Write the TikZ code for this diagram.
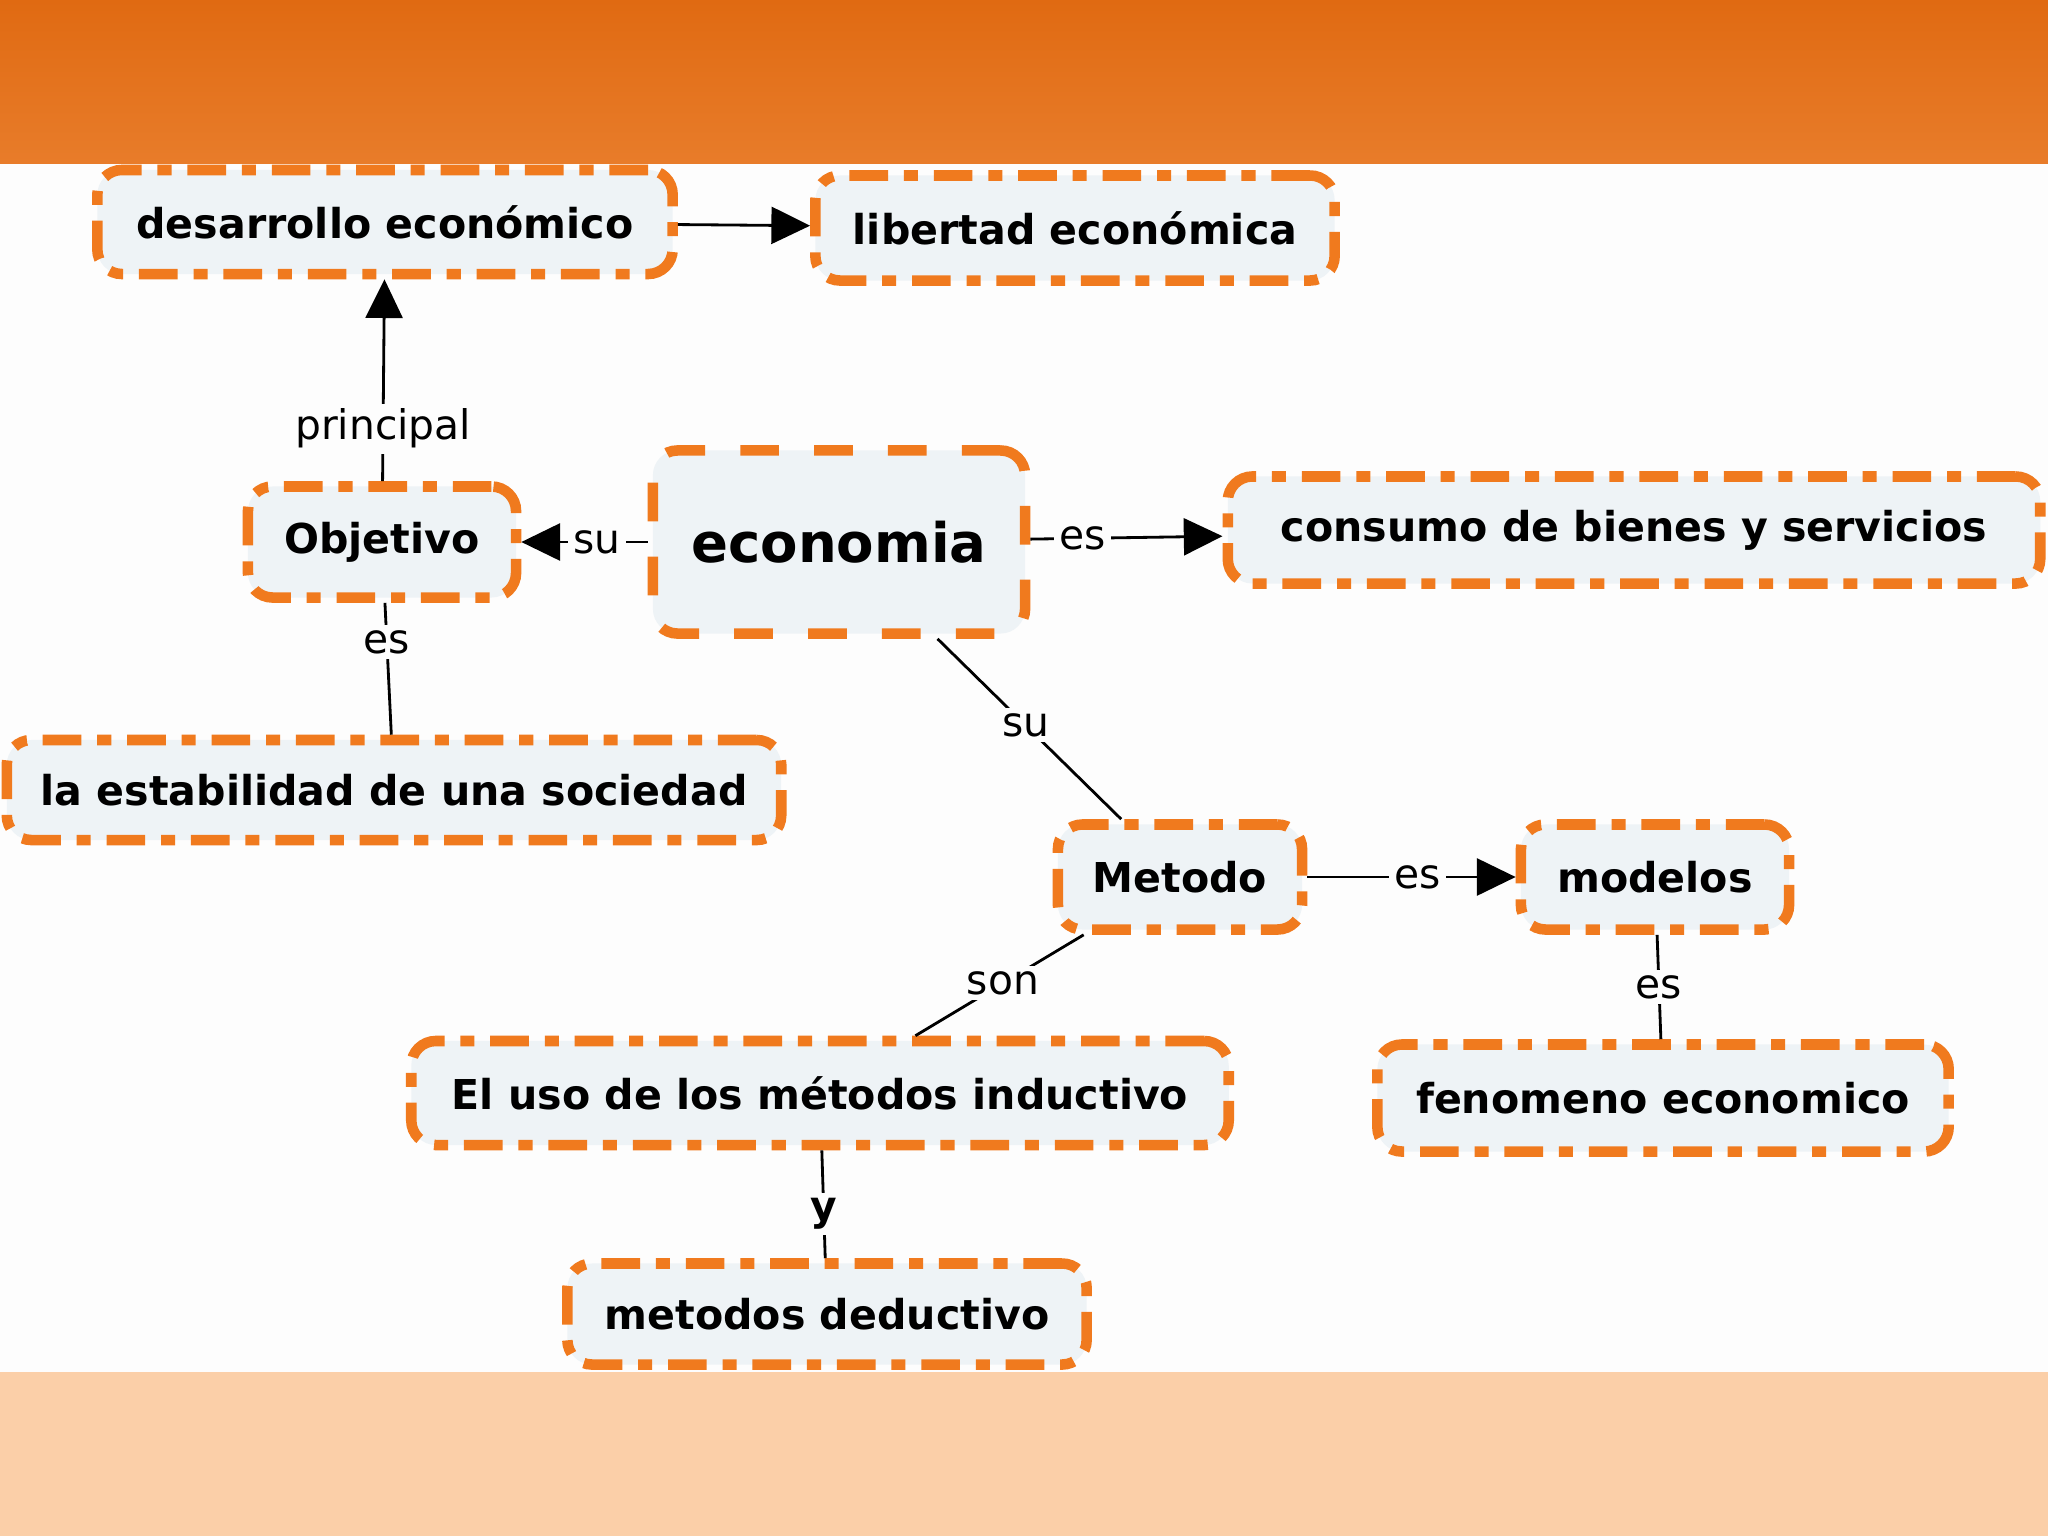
\documentclass[tikz,border=0pt]{standalone}
\usepackage{fontspec}
\setmainfont{DejaVu Sans}
\usetikzlibrary{arrows.meta}
\definecolor{boxorange}{HTML}{F07A1E}
\definecolor{boxfill}{HTML}{EEF3F6}
\definecolor{bandtop}{HTML}{E06A12}
\definecolor{bandbot}{HTML}{E87C2A}
\definecolor{peach}{HTML}{FBCFA8}
\definecolor{bg}{HTML}{FDFDFD}
\tikzset{
  box/.style={draw=boxorange, line width=3pt, fill=boxfill, rounded corners=7pt,
    dash pattern=on 11pt off 4.5pt on 4pt off 4.5pt,
    font=\fontsize{11.7}{14}\selectfont\bfseries, inner sep=0pt, text=black},
  bigbox/.style={box, dash pattern=on 11pt off 10pt, font=\fontsize{15.5}{18}\selectfont\bfseries},
  conn/.style={line width=0.8pt, black},
  arr/.style={conn, -{Triangle[length=11pt,width=10.5pt]}},
  lbl/.style={fill=bg, inner sep=1.5pt, font=\fontsize{11.6}{14}\selectfont, text=black},
  blbl/.style={lbl, font=\fontsize{11.6}{14}\selectfont\bfseries}
}
\begin{document}
\begin{tikzpicture}[x=0.01cm,y=-0.01cm]
\useasboundingbox (0,0) rectangle (2048,1536);
\fill[bg] (0,0) rectangle (2048,1536);
\fill[peach] (0,1372) rectangle (2048,1536);

\node[box, minimum width=5.75cm, minimum height=1.04cm] (des) at (385,222) {desarrollo económico};
\node[box, minimum width=5.19cm, minimum height=1.05cm] (lib) at (1075,228) {libertad económica};
\node[box, minimum width=2.68cm, minimum height=1.11cm] (obj) at (382,542) {Objetivo};
\node[bigbox, minimum width=3.72cm, minimum height=1.83cm] (econ) at (839,542) {economia};
\node[box, minimum width=8.12cm, minimum height=1.07cm] (cons) at (1634,530) {consumo de bienes y servicios};
\node[box, minimum width=7.74cm, minimum height=1.00cm] (est) at (394,790) {la estabilidad de una sociedad};
\node[box, minimum width=2.44cm, minimum height=1.05cm] (met) at (1180,877) {Metodo};
\node[box, minimum width=2.68cm, minimum height=1.05cm] (mod) at (1655,877) {modelos};
\node[box, minimum width=8.17cm, minimum height=1.04cm] (uso) at (820,1093) {El uso de los métodos inductivo};
\node[box, minimum width=5.71cm, minimum height=1.07cm] (fen) at (1663,1098) {fenomeno economico};
\node[box, minimum width=5.19cm, minimum height=1.01cm] (ded) at (827,1314) {metodos deductivo};

\draw[arr] (des) -- (lib);
\draw[arr] (obj) -- node[lbl, pos=0.26] {principal} (des);
\draw[arr] (econ) -- node[lbl, pos=0.4] {su} (obj);
\draw[arr] (econ) -- node[lbl, pos=0.27] {es} (cons);
\draw[conn] (obj) -- node[lbl, pos=0.3] {es} (est);
\draw[conn] (econ) -- node[lbl, pos=0.48] {su} (met);
\draw[arr] (met) -- node[lbl, pos=0.53] {es} (mod);
\draw[conn] (met) -- node[lbl, pos=0.48] {son} (uso);
\draw[conn] (mod) -- node[lbl, pos=0.5] {es} (fen);
\draw[conn] (uso) -- node[blbl, pos=0.59] {y} (ded);

\shade[top color=bandtop, bottom color=bandbot] (0,0) rectangle (2048,163);
\end{tikzpicture}
\end{document}
